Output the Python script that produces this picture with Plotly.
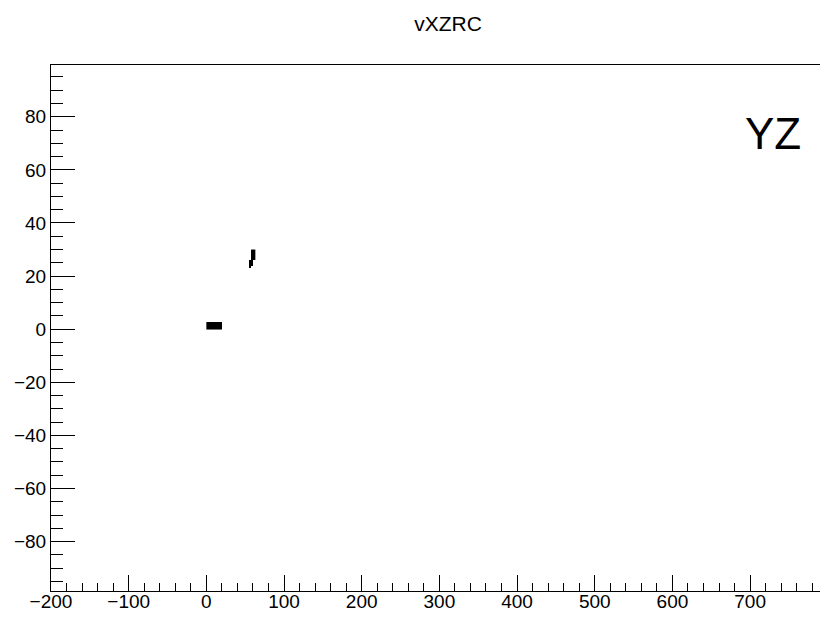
import numpy as np
import plotly.graph_objects as go

# ---- data: filled 2D-histogram cells (bin centres), bin sizes ----
bin_dx = 2.5
bin_dy = 1.0
cell_x = [1.25, 3.75, 6.25, 8.75, 11.25, 13.75, 16.25, 18.75] * 3 + \
         [59.75, 62.25, 59.75, 62.25, 58.75, 61.25, 57.75, 60.25, 56.25, 58.75, 55.25, 57.75, 55.25]
cell_y = [0.5] * 8 + [1.5] * 8 + [2.5] * 8 + \
         [29.5, 29.5, 28.5, 28.5, 27.5, 27.5, 26.5, 26.5, 25.5, 25.5, 24.5, 24.5, 23.5]
cell_val = [1] * len(cell_x)

x_range = [-200, 790]
y_range = [-98.6, 99.5]
title_text = "vXZRC"
label_text = "YZ"

# build grid from cells
x_lo = min(cell_x) - bin_dx / 2
x_hi = max(cell_x) + bin_dx / 2
y_lo = min(cell_y) - bin_dy / 2
y_hi = max(cell_y) + bin_dy / 2
gx = np.arange(x_lo + bin_dx / 2, x_hi, bin_dx)
gy = np.arange(y_lo + bin_dy / 2, y_hi, bin_dy)
z = np.full((len(gy), len(gx)), np.nan)
for cx, cy, v in zip(cell_x, cell_y, cell_val):
    i = int(round((cy - gy[0]) / bin_dy))
    j = int(round((cx - gx[0]) / bin_dx))
    z[i, j] = v

fig = go.Figure(go.Heatmap(
    x=gx, y=gy, z=z,
    colorscale=[[0, "black"], [1, "black"]],
    showscale=False, zsmooth=False, hoverongaps=False,
))

font = "Liberation Sans, Arial, sans-serif"
fig.update_layout(
    width=820, height=619,
    margin=dict(l=51, r=0, t=65, b=28),
    paper_bgcolor="white", plot_bgcolor="white",
    showlegend=False,
    title=dict(text=title_text, x=448 / 820, xanchor="center", y=1 - 24 / 619,
               yanchor="middle", font=dict(family=font, size=21, color="black")),
    font=dict(family=font, size=19, color="black"),
    annotations=[dict(text=label_text, xref="paper", yref="paper",
                      x=(803 - 51) / 769, y=(591 - 134) / (591 - 65),
                      xanchor="right", yanchor="middle", showarrow=False,
                      font=dict(family=font, size=44, color="black"))],
)

fig.update_xaxes(
    range=x_range, dtick=100, tick0=0, ticks="inside", ticklen=16, tickwidth=1,
    tickcolor="black", showline=True, linecolor="black", linewidth=1,
    mirror=True, showgrid=False, zeroline=False, ticklabelstandoff=-7,
    minor=dict(dtick=20, tick0=0, ticks="inside", ticklen=8, tickcolor="black", showgrid=False),
    tickfont=dict(family=font, size=19, color="black"),
)
fig.update_yaxes(
    range=y_range, dtick=20, tick0=0, ticks="inside", ticklen=24, tickwidth=1,
    tickcolor="black", showline=True, linecolor="black", linewidth=1,
    showgrid=False, zeroline=False,
    minor=dict(dtick=5, tick0=0, ticks="inside", ticklen=12, tickcolor="black", showgrid=False),
    tickfont=dict(family=font, size=19, color="black"),
)

fig.write_html("out.html")
